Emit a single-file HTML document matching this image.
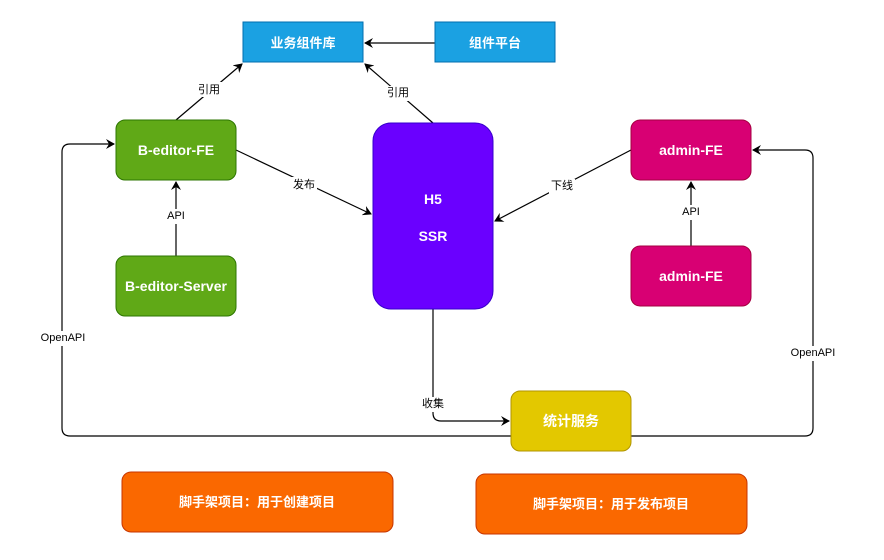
<!DOCTYPE html>
<html><head><meta charset="utf-8"><style>
body{margin:0;background:#fff;width:884px;height:555px;overflow:hidden}
svg text{font-family:"Liberation Sans","Noto Sans CJK SC",sans-serif}
.b{font-weight:bold;font-size:14px;fill:#fff;text-anchor:middle;dominant-baseline:central}
.l{font-size:11px;fill:#000;text-anchor:middle;dominant-baseline:central}
.bg{fill:#fff}
</style></head><body>
<svg width="884" height="555" xmlns="http://www.w3.org/2000/svg">
<defs><marker id="a" markerWidth="10" markerHeight="10" refX="8" refY="5" orient="auto" markerUnits="userSpaceOnUse"><path d="M0,0 L9,5 L0,10 L3,5 Z" fill="#000"/></marker></defs>
<g stroke="#000" stroke-width="1.2" fill="none">
<line x1="435" y1="43" x2="365" y2="43" marker-end="url(#a)"/>
<line x1="176" y1="120" x2="242" y2="64" marker-end="url(#a)"/>
<line x1="433" y1="123" x2="365" y2="64" marker-end="url(#a)"/>
<line x1="236" y1="150" x2="371" y2="214" marker-end="url(#a)"/>
<line x1="631" y1="150" x2="495" y2="221" marker-end="url(#a)"/>
<line x1="176" y1="256" x2="176" y2="182" marker-end="url(#a)"/>
<line x1="691" y1="246" x2="691" y2="182" marker-end="url(#a)"/>
<path d="M433,309 L433,413 Q433,421 441,421 L509,421" marker-end="url(#a)"/>
<path d="M511,436 L70,436 Q62,436 62,428 L62,152 Q62,144 70,144 L114,144" marker-end="url(#a)"/>
<path d="M631,436 L805,436 Q813,436 813,428 L813,158 Q813,150 805,150 L753,150" marker-end="url(#a)"/>
</g>
<rect x="243" y="22" width="120" height="40" fill="#1ba1e2" stroke="#006eaf"/>
<text class="b" x="303" y="43" style="font-size:13px">业务组件库</text>
<rect x="435" y="22" width="120" height="40" fill="#1ba1e2" stroke="#006eaf"/>
<text class="b" x="495" y="43" style="font-size:13px">组件平台</text>
<rect x="116" y="120" width="120" height="60" rx="9" fill="#60a917" stroke="#2d7600"/>
<text class="b" x="176" y="150">B-editor-FE</text>
<rect x="116" y="256" width="120" height="60" rx="9" fill="#60a917" stroke="#2d7600"/>
<text class="b" x="176" y="286">B-editor-Server</text>
<rect x="373" y="123" width="120" height="186" rx="18" fill="#6a00ff" stroke="#3700cc"/>
<text class="b" x="433" y="199">H5</text>
<text class="b" x="433" y="236">SSR</text>
<rect x="631" y="120" width="120" height="60" rx="9" fill="#d80073" stroke="#a50040"/>
<text class="b" x="691" y="150">admin-FE</text>
<rect x="631" y="246" width="120" height="60" rx="9" fill="#d80073" stroke="#a50040"/>
<text class="b" x="691" y="276">admin-FE</text>
<rect x="511" y="391" width="120" height="60" rx="9" fill="#e3c800" stroke="#b09500"/>
<text class="b" x="571" y="421">统计服务</text>
<rect x="122" y="472" width="271" height="60" rx="9" fill="#fa6800" stroke="#c73500"/>
<text class="b" x="257" y="502" style="font-size:13px">脚手架项目：用于创建项目</text>
<rect x="476" y="474" width="271" height="60" rx="9" fill="#fa6800" stroke="#c73500"/>
<text class="b" x="611" y="504" style="font-size:13px">脚手架项目：用于发布项目</text>
<rect class="bg" x="196" y="82" width="26" height="15"/><text class="l" x="209" y="90">引用</text>
<rect class="bg" x="385" y="86" width="26" height="15"/><text class="l" x="398" y="93">引用</text>
<rect class="bg" x="291" y="177" width="26" height="15"/><text class="l" x="304" y="185">发布</text>
<rect class="bg" x="549" y="179" width="26" height="15"/><text class="l" x="562" y="186">下线</text>
<rect class="bg" x="164" y="209" width="24" height="15"/><text class="l" x="176" y="216">API</text>
<rect class="bg" x="679" y="205" width="24" height="15"/><text class="l" x="691" y="212">API</text>
<rect class="bg" x="420" y="397" width="26" height="15"/><text class="l" x="433" y="404">收集</text>
<rect class="bg" x="38" y="331" width="50" height="15"/><text class="l" x="63" y="338">OpenAPI</text>
<rect class="bg" x="789" y="346" width="50" height="15"/><text class="l" x="813" y="353">OpenAPI</text>
</svg>
</body></html>
